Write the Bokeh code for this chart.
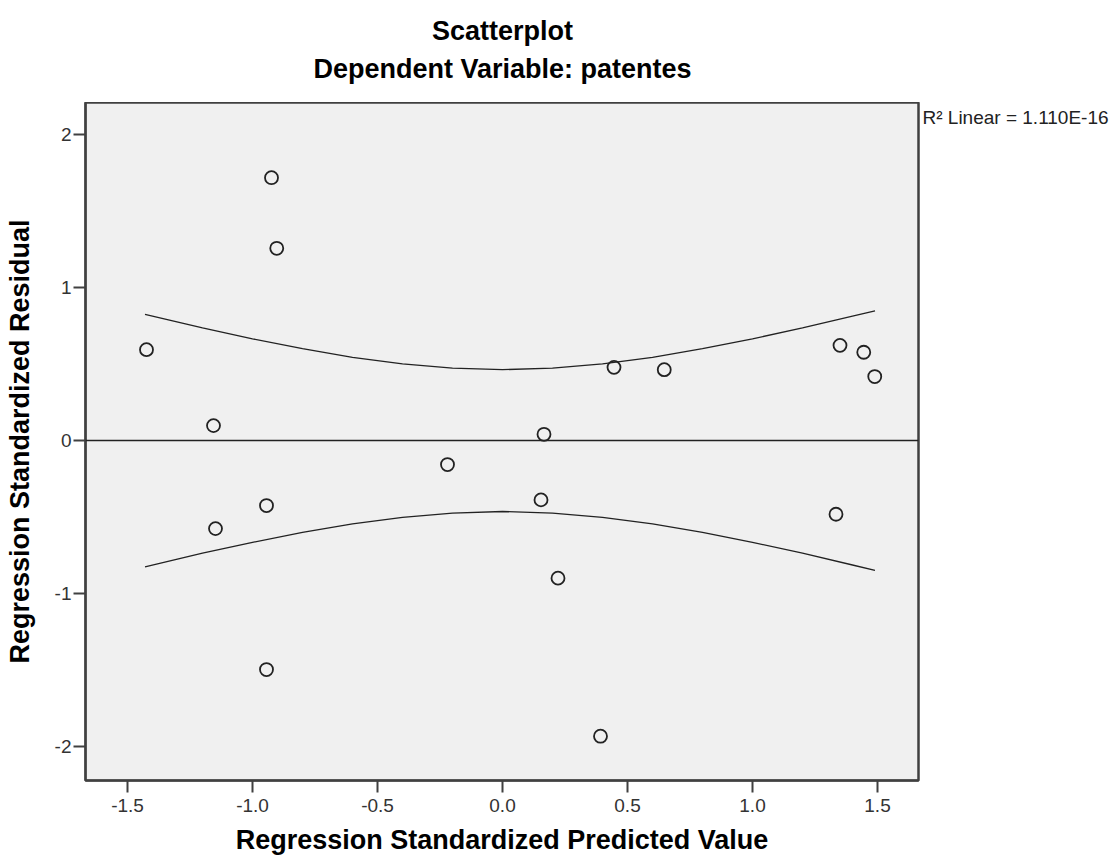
from bokeh.plotting import figure
from bokeh.layouts import row, column
from bokeh.models import Range1d, Span, FixedTicker, PrintfTickFormatter
from bokeh.core.properties import value
from bokeh.embed import file_html
from bokeh.resources import INLINE

# Data
pred = [-1.424, -1.156, -1.148, -0.924, -0.903, -0.944, -0.944, -0.220, 0.166,
        0.154, 0.222, 0.392, 0.446, 0.647, 1.350, 1.445, 1.489, 1.334]
resid = [0.595, 0.098, -0.576, 1.720, 1.258, -0.425, -1.498, -0.157, 0.041,
         -0.388, -0.900, -1.934, 0.479, 0.464, 0.623, 0.578, 0.419, -0.482]

band_x = [-1.43, -1.2, -1.0, -0.8, -0.6, -0.4, -0.2, 0.0, 0.2, 0.4, 0.6, 0.8,
          1.0, 1.2, 1.4, 1.49]
band_upper = [0.826, 0.737, 0.666, 0.601, 0.545, 0.502, 0.474, 0.464, 0.474,
              0.502, 0.545, 0.601, 0.666, 0.737, 0.814, 0.849]
band_lower = [-0.826, -0.737, -0.666, -0.601, -0.545, -0.502, -0.474, -0.464,
              -0.474, -0.502, -0.545, -0.601, -0.666, -0.737, -0.814, -0.849]

x_ticks = [-1.5, -1.0, -0.5, 0.0, 0.5, 1.0, 1.5]
y_ticks = [-2, -1, 0, 1, 2]
fit_level = 0.0

title_text = "Scatterplot"
subtitle_text = "Dependent Variable: patentes"
r2_text = "R\u00b2 Linear = 1.110E-16"
x_label = "Regression Standardized Predicted Value"
y_label = "Regression Standardized Residual"

FONT = "Liberation Sans"

x_rng = Range1d(-1.668, 1.664)
y_rng = Range1d(-2.224, 2.212)

# ---- main chart ----
p = figure(width=920, height=759, output_backend="svg", toolbar_location=None,
           x_range=x_rng, y_range=y_rng,
           min_border_left=85, min_border_right=2, min_border_top=0,
           min_border_bottom=81)

p.background_fill_color = "#f0f0f0"
p.border_fill_color = "white"
p.outline_line_color = "#404040"
p.outline_line_width = 2.5
p.grid.visible = False

for ax in (p.xaxis[0], p.yaxis[0]):
    ax.axis_line_color = "#404040"
    ax.axis_line_width = 2
    ax.major_tick_line_color = "#404040"
    ax.major_tick_line_width = 2
    ax.major_tick_out = 12
    ax.major_tick_in = 0
    ax.minor_tick_line_color = None
    ax.major_label_text_font = FONT
    ax.major_label_text_font_size = "19px"
    ax.major_label_text_color = "#333333"
    ax.axis_label_text_font = FONT
    ax.axis_label_text_font_size = "27px"
    ax.axis_label_text_font_style = "bold"
    ax.axis_label_text_color = "black"

p.xaxis.ticker = FixedTicker(ticks=x_ticks)
p.xaxis.formatter = PrintfTickFormatter(format="%.1f")
p.xaxis.major_label_standoff = 6
p.xaxis.axis_label = x_label
p.xaxis.axis_label_standoff = 10

p.yaxis.ticker = FixedTicker(ticks=y_ticks)
p.yaxis.formatter = PrintfTickFormatter(format="%d")
p.yaxis.major_label_standoff = 2
p.yaxis.axis_label = y_label
p.yaxis.axis_label_standoff = 17

p.add_layout(Span(location=fit_level, dimension="width", line_color="#222222",
                  line_width=1.5))

p.line(band_x, band_upper, line_color="#222222", line_width=1.3)
p.line(band_x, band_lower, line_color="#222222", line_width=1.3)

p.scatter(pred, resid, marker="circle", size=13, fill_color=None,
          line_color="#222222", line_width=1.8)

# ---- headings strip above the chart (pixel-like vertical range) ----
head = figure(width=920, height=102, output_backend="svg",
              toolbar_location=None, x_range=x_rng, y_range=Range1d(0, 102),
              x_axis_type=None, y_axis_type=None,
              min_border_left=85, min_border_right=2, min_border_top=0,
              min_border_bottom=0)
head.outline_line_color = None
head.background_fill_color = "white"
head.border_fill_color = "white"
head.grid.visible = False
head.text(x=[0.0], y=[72], text=[title_text], text_align="center",
          text_baseline="middle", text_font=value(FONT), text_font_size="27px",
          text_font_style="bold", text_color="black")
head.text(x=[0.0], y=[34], text=[subtitle_text], text_align="center",
          text_baseline="middle", text_font=value(FONT), text_font_size="27px",
          text_font_style="bold", text_color="black")

# ---- note to the right of the chart (shares the chart's vertical scale) ----
note = figure(width=199, height=759, output_backend="svg",
              toolbar_location=None, x_range=Range1d(0, 199), y_range=y_rng,
              x_axis_type=None, y_axis_type=None, min_border=0)
note.outline_line_color = None
note.background_fill_color = "white"
note.border_fill_color = "white"
note.grid.visible = False
note.text(x=[2], y=[2.112], text=[r2_text], text_align="left",
          text_baseline="middle", text_font=value(FONT), text_font_size="19px",
          text_color="#222222")

layout = column(head, row(p, note, spacing=0), spacing=0)

open("out.html", "w").write(file_html(layout, INLINE))
